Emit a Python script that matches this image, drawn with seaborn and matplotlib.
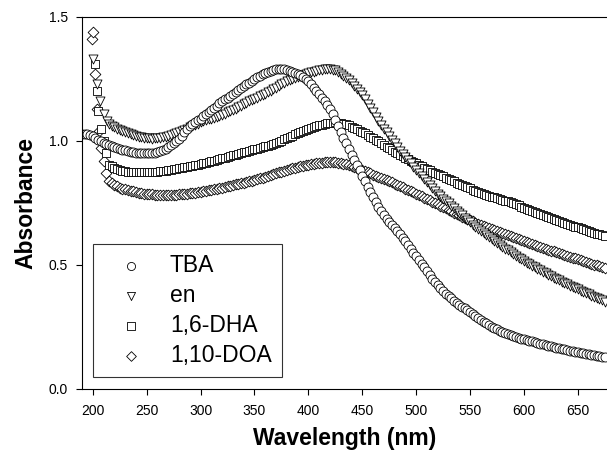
import numpy as np
import matplotlib
matplotlib.use('Agg')
import matplotlib.pyplot as plt
import seaborn as sns

sns.set_style('ticks', {'text.color': 'black', 'axes.labelcolor': 'black',
                        'xtick.color': 'black', 'ytick.color': 'black',
                        'axes.edgecolor': 'black'})
plt.rcParams['font.family'] = ['Liberation Sans', 'DejaVu Sans']

# wavelength grid (nm) after the steep UV edge, plus the in-between readings
wl_common = [215, 220, 225, 230, 235, 240, 245, 250, 255, 260,
             265, 270, 275, 280, 285, 290, 295, 300, 305, 310,
             315, 320, 325, 330, 335, 340, 345, 350, 355, 360,
             365, 370, 375, 380, 385, 390, 395, 400, 405, 410,
             415, 420, 425, 430, 435, 440, 445, 450, 455, 460,
             465, 470, 475, 480, 485, 490, 495, 500, 505, 510,
             515, 520, 525, 530, 535, 540, 545, 550, 555, 560,
             565, 570, 575, 580, 585, 590, 595, 600, 605, 610,
             615, 620, 625, 630, 635, 640, 645, 650, 655, 660,
             665, 670, 675]
wl_mid = [217.5, 222.5, 227.5, 232.5, 237.5, 242.5, 247.5, 252.5, 257.5, 262.5,
          267.5, 272.5, 277.5, 282.5, 287.5, 292.5, 297.5, 302.5, 307.5, 312.5,
          317.5, 322.5, 327.5, 332.5, 337.5, 342.5, 347.5, 352.5, 357.5, 362.5,
          367.5, 372.5, 377.5, 382.5, 387.5, 392.5, 397.5, 402.5, 407.5, 412.5,
          417.5, 422.5, 427.5, 432.5, 437.5, 442.5, 447.5, 452.5, 457.5, 462.5,
          467.5, 472.5, 477.5, 482.5, 487.5, 492.5, 497.5, 502.5, 507.5, 512.5,
          517.5, 522.5, 527.5, 532.5, 537.5, 542.5, 547.5, 552.5, 557.5, 562.5,
          567.5, 572.5, 577.5, 582.5, 587.5, 592.5, 597.5, 602.5, 607.5, 612.5,
          617.5, 622.5, 627.5, 632.5, 637.5, 642.5, 647.5, 652.5, 657.5, 662.5,
          667.5, 672.5]

# TBA
tba_head_wl = [190, 192.5, 195, 197.5, 200, 202.5, 205, 207.5, 210, 212.5]
tba_head = [1.03, 1.03, 1.03, 1.025, 1.02, 1.012, 1.005, 0.998, 0.993, 0.988]
tba = [0.985, 0.975, 0.968, 0.962, 0.957, 0.953, 0.95, 0.95, 0.95, 0.955,
       0.963, 0.975, 0.99, 1.01, 1.035, 1.06, 1.075, 1.09, 1.108, 1.125,
       1.143, 1.16, 1.175, 1.19, 1.205, 1.22, 1.235, 1.25, 1.263, 1.275,
       1.283, 1.29, 1.29, 1.287, 1.28, 1.27, 1.26, 1.24, 1.215, 1.19,
       1.16, 1.13, 1.085, 1.035, 0.99, 0.945, 0.905, 0.86, 0.815, 0.775,
       0.735, 0.70, 0.675, 0.65, 0.625, 0.595, 0.565, 0.535, 0.505, 0.475,
       0.445, 0.42, 0.395, 0.375, 0.355, 0.34, 0.325, 0.31, 0.295, 0.28,
       0.265, 0.25, 0.24, 0.23, 0.222, 0.215, 0.207, 0.20, 0.195, 0.19,
       0.183, 0.177, 0.172, 0.167, 0.162, 0.158, 0.153, 0.149, 0.145, 0.141,
       0.137, 0.133, 0.13]
tba_mid = [0.98, 0.971, 0.965, 0.96, 0.955, 0.951, 0.95, 0.95, 0.952, 0.959,
           0.969, 0.982, 1.0, 1.022, 1.048, 1.068, 1.083, 1.099, 1.117, 1.134,
           1.152, 1.168, 1.183, 1.198, 1.213, 1.228, 1.243, 1.257, 1.269, 1.279,
           1.287, 1.29, 1.289, 1.284, 1.275, 1.265, 1.25, 1.228, 1.203, 1.175,
           1.145, 1.108, 1.06, 1.012, 0.968, 0.925, 0.883, 0.838, 0.795, 0.755,
           0.717, 0.687, 0.662, 0.637, 0.61, 0.58, 0.55, 0.52, 0.49, 0.46,
           0.432, 0.407, 0.385, 0.365, 0.347, 0.332, 0.317, 0.302, 0.287, 0.272,
           0.257, 0.245, 0.235, 0.226, 0.218, 0.211, 0.203, 0.197, 0.192, 0.186,
           0.18, 0.174, 0.169, 0.164, 0.16, 0.155, 0.151, 0.147, 0.143, 0.139,
           0.135, 0.131]

# en
en_head_wl = [200, 204, 207, 210, 213]
en_head = [1.33, 1.23, 1.16, 1.11, 1.08]
en = [1.07, 1.055, 1.045, 1.035, 1.027, 1.02, 1.015, 1.012, 1.01, 1.012,
      1.015, 1.02, 1.027, 1.035, 1.045, 1.055, 1.065, 1.075, 1.083, 1.09,
      1.098, 1.105, 1.115, 1.125, 1.137, 1.15, 1.16, 1.17, 1.18, 1.19,
      1.203, 1.215, 1.228, 1.24, 1.25, 1.26, 1.268, 1.275, 1.28, 1.285,
      1.29, 1.29, 1.285, 1.272, 1.255, 1.235, 1.21, 1.185, 1.15, 1.115,
      1.08, 1.05, 1.02, 0.99, 0.96, 0.935, 0.91, 0.885, 0.86, 0.835,
      0.81, 0.787, 0.767, 0.748, 0.729, 0.71, 0.69, 0.672, 0.654, 0.637,
      0.62, 0.604, 0.589, 0.574, 0.559, 0.544, 0.53, 0.517, 0.503, 0.49,
      0.478, 0.466, 0.455, 0.444, 0.433, 0.422, 0.412, 0.402, 0.392, 0.382,
      0.372, 0.362, 0.352]
en_mid = [1.062, 1.05, 1.04, 1.031, 1.023, 1.017, 1.013, 1.011, 1.011, 1.013,
          1.017, 1.023, 1.031, 1.04, 1.05, 1.06, 1.07, 1.079, 1.087, 1.094,
          1.101, 1.11, 1.12, 1.131, 1.143, 1.155, 1.165, 1.175, 1.185, 1.196,
          1.209, 1.221, 1.234, 1.245, 1.255, 1.264, 1.272, 1.278, 1.283, 1.288,
          1.29, 1.288, 1.279, 1.264, 1.245, 1.223, 1.198, 1.168, 1.133, 1.098,
          1.065, 1.035, 1.005, 0.975, 0.947, 0.922, 0.897, 0.872, 0.847, 0.822,
          0.798, 0.777, 0.757, 0.738, 0.719, 0.7, 0.681, 0.663, 0.645, 0.628,
          0.612, 0.596, 0.581, 0.566, 0.551, 0.537, 0.523, 0.51, 0.496, 0.484,
          0.472, 0.46, 0.449, 0.438, 0.427, 0.417, 0.407, 0.397, 0.387, 0.377,
          0.367, 0.357]

# 1,6-DHA
dha_head_wl = [202, 203.5, 205, 207.5, 210, 212]
dha_head = [1.31, 1.20, 1.12, 1.05, 1.00, 0.95]
dha = [0.905, 0.892, 0.884, 0.879, 0.876, 0.875, 0.875, 0.875, 0.876, 0.877,
       0.879, 0.882, 0.886, 0.89, 0.894, 0.898, 0.903, 0.908, 0.913, 0.918,
       0.924, 0.93, 0.936, 0.942, 0.948, 0.954, 0.96, 0.966, 0.972, 0.978,
       0.985, 0.993, 1.002, 1.012, 1.022, 1.032, 1.04, 1.048, 1.056, 1.063,
       1.069, 1.073, 1.075, 1.073, 1.067, 1.058, 1.048, 1.037, 1.025, 1.012,
       0.998, 0.984, 0.97, 0.957, 0.944, 0.932, 0.921, 0.91, 0.899, 0.888,
       0.877, 0.867, 0.857, 0.847, 0.837, 0.828, 0.818, 0.809, 0.8, 0.791,
       0.783, 0.776, 0.77, 0.764, 0.757, 0.749, 0.74, 0.731, 0.722, 0.713,
       0.705, 0.697, 0.689, 0.681, 0.673, 0.666, 0.659, 0.652, 0.645, 0.638,
       0.631, 0.624, 0.617]
dha_mid = [0.898, 0.888, 0.881, 0.877, 0.875, 0.875, 0.875, 0.875, 0.876, 0.878,
           0.88, 0.884, 0.888, 0.892, 0.896, 0.9, 0.905, 0.91, 0.915, 0.921,
           0.927, 0.933, 0.939, 0.945, 0.951, 0.957, 0.963, 0.969, 0.975, 0.981,
           0.989, 0.997, 1.007, 1.017, 1.027, 1.036, 1.044, 1.052, 1.06, 1.066,
           1.071, 1.074, 1.074, 1.07, 1.063, 1.053, 1.042, 1.031, 1.018, 1.005,
           0.991, 0.977, 0.963, 0.95, 0.938, 0.926, 0.915, 0.904, 0.893, 0.882,
           0.872, 0.862, 0.852, 0.842, 0.832, 0.823, 0.813, 0.804, 0.795, 0.787,
           0.779, 0.773, 0.767, 0.76, 0.753, 0.744, 0.735, 0.726, 0.717, 0.709,
           0.701, 0.693, 0.685, 0.677, 0.67, 0.662, 0.655, 0.648, 0.641, 0.634,
           0.627, 0.62]

# 1,10-DOA
doa_head_wl = [199, 200, 202, 204, 206, 208, 210, 212]
doa_head = [1.41, 1.44, 1.27, 1.13, 1.04, 0.97, 0.92, 0.87]
doa = [0.84, 0.822, 0.812, 0.805, 0.80, 0.795, 0.79, 0.787, 0.785, 0.784,
       0.783, 0.783, 0.784, 0.785, 0.787, 0.789, 0.792, 0.795, 0.799, 0.803,
       0.807, 0.812, 0.817, 0.822, 0.827, 0.832, 0.837, 0.843, 0.849, 0.856,
       0.863, 0.87, 0.877, 0.884, 0.89, 0.896, 0.901, 0.905, 0.909, 0.912,
       0.914, 0.915, 0.914, 0.911, 0.906, 0.899, 0.891, 0.882, 0.873, 0.864,
       0.855, 0.846, 0.837, 0.828, 0.818, 0.808, 0.798, 0.788, 0.777, 0.766,
       0.755, 0.744, 0.733, 0.722, 0.711, 0.7, 0.69, 0.68, 0.671, 0.662,
       0.653, 0.644, 0.636, 0.628, 0.62, 0.612, 0.604, 0.596, 0.588, 0.58,
       0.572, 0.565, 0.558, 0.551, 0.544, 0.537, 0.53, 0.523, 0.516, 0.509,
       0.502, 0.495, 0.488]
doa_mid = [0.83, 0.817, 0.808, 0.802, 0.797, 0.792, 0.788, 0.786, 0.784, 0.783,
           0.783, 0.783, 0.784, 0.786, 0.788, 0.79, 0.793, 0.797, 0.801, 0.805,
           0.81, 0.814, 0.82, 0.825, 0.83, 0.835, 0.84, 0.846, 0.852, 0.86,
           0.867, 0.874, 0.881, 0.887, 0.893, 0.899, 0.903, 0.907, 0.911, 0.913,
           0.915, 0.915, 0.913, 0.909, 0.903, 0.895, 0.887, 0.878, 0.869, 0.86,
           0.851, 0.842, 0.833, 0.823, 0.813, 0.803, 0.793, 0.783, 0.772, 0.761,
           0.75, 0.739, 0.728, 0.717, 0.706, 0.695, 0.685, 0.676, 0.667, 0.658,
           0.649, 0.64, 0.632, 0.624, 0.616, 0.608, 0.6, 0.592, 0.584, 0.576,
           0.569, 0.562, 0.555, 0.548, 0.541, 0.534, 0.527, 0.52, 0.513, 0.506,
           0.499, 0.492]


def spectrum(head_wl, head, main, mid):
    x = np.array(head_wl + wl_common + wl_mid, dtype=float)
    y = np.array(head + main + mid, dtype=float)
    idx = np.argsort(x)
    return x[idx], y[idx]


fig = plt.figure(figsize=(6.07, 4.57), dpi=100)
ax = fig.add_axes([82 / 607, 68 / 457, 525 / 607, 372 / 457])

series = [
    ('1,10-DOA', spectrum(doa_head_wl, doa_head, doa, doa_mid), 'D', 30),
    ('1,6-DHA', spectrum(dha_head_wl, dha_head, dha, dha_mid), 's', 38),
    ('en', spectrum(en_head_wl, en_head, en, en_mid), 'v', 42),
    ('TBA', spectrum(tba_head_wl, tba_head, tba, tba_mid), 'o', 42),
]
for name, (x, y), m, s in series:
    sns.scatterplot(x=x, y=y, marker=m, s=s, color='white', edgecolor='black',
                    linewidth=0.6, label=name, ax=ax)

ax.set_xlim(190, 677)
ax.set_ylim(0, 1.5)
ax.set_xticks([200, 250, 300, 350, 400, 450, 500, 550, 600, 650])
ax.set_yticks([0.0, 0.5, 1.0, 1.5])
ax.set_yticklabels(['0.0', '0.5', '1.0', '1.5'])
ax.tick_params(axis='both', labelsize=10, length=4, width=0.8, color='black')
ax.tick_params(axis='x', pad=7)
ax.tick_params(axis='y', pad=6)
ax.spines['right'].set_visible(False)
for sp in ['left', 'top', 'bottom']:
    ax.spines[sp].set_color('black')
    ax.spines[sp].set_linewidth(0.8)

ax.set_xlabel('Wavelength (nm)', fontsize=16.5, fontweight='bold', labelpad=6)
ax.set_ylabel('Absorbance', fontsize=16.5, fontweight='bold', labelpad=8)

handles, labels = ax.get_legend_handles_labels()
order = [3, 2, 1, 0]
leg = ax.legend([handles[i] for i in order], [labels[i] for i in order],
                loc='lower left', bbox_to_anchor=(0.021, 0.032), borderaxespad=0,
                fontsize=16.5, frameon=True, fancybox=False, edgecolor='black',
                handlelength=2.4, handletextpad=0.5, labelspacing=0.3,
                borderpad=0.45, markerscale=0.9)
leg.get_frame().set_linewidth(0.8)

fig.savefig('out.png', dpi=100)
